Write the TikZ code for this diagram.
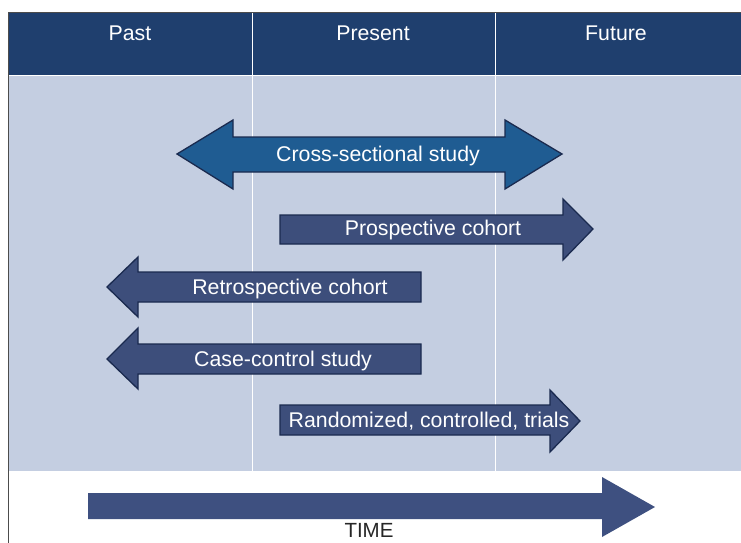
\documentclass[tikz,border=0pt]{standalone}
\usepackage{fontspec}
\setmainfont{Liberation Sans}
\definecolor{hdr}{HTML}{1F3F6E}
\definecolor{panel}{HTML}{C4CEE1}
\definecolor{xsec}{HTML}{1F5C92}
\definecolor{arr}{HTML}{3D4E7B}
\definecolor{edge}{HTML}{1A2A4F}
\definecolor{timec}{HTML}{3E5080}
\begin{document}
\begin{tikzpicture}[x=1pt,y=-1pt,
  hdrtext/.style={text=white,font=\fontsize{21.3}{23}\selectfont,inner sep=0pt},
  lbl/.style={text=white,font=\fontsize{21.3}{23}\selectfont,inner sep=0pt},
  arrowshape/.style={fill=arr,draw=edge,line width=1.3pt,line join=miter},
  divider/.style={draw=white,line width=1pt}]
\useasboundingbox (0,0) rectangle (741,543);
\fill[white] (0,0) rectangle (741,543);
% header and panel
\fill[hdr] (8,13) rectangle (741,75);
\fill[panel] (8,76) rectangle (741,471);
\draw[divider] (252,13) -- (252,471);
\draw[divider] (495,13) -- (495,471);
\draw[divider] (8,75.5) -- (741,75.5);
\draw[draw=black!70,line width=0.8pt] (8,543) -- (8,12.5) -- (741,12.5);
\node[hdrtext] (past) at (130,33) {Past};
\node[hdrtext] (present) at (373,33) {Present};
\node[hdrtext] (future) at (616,33) {Future};
% cross-sectional
\draw[arrowshape,fill=xsec] (177,154) -- (233,120) -- (233,137) -- (505,137) -- (505,120) -- (562,154) -- (505,189) -- (505,172) -- (233,172) -- (233,189) -- cycle;
\node[lbl] (xs) at (378,155.5) {Cross-sectional study};
% prospective
\draw[arrowshape] (280,215) -- (563,215) -- (563,199) -- (593,229) -- (563,260) -- (563,244) -- (280,244) -- cycle;
\node[lbl] (pc) at (433,229.5) {Prospective cohort};
% retrospective
\draw[arrowshape] (107,287) -- (138,257) -- (138,272) -- (421,272) -- (421,302) -- (138,302) -- (138,317) -- cycle;
\node[lbl] (rc) at (290,288.5) {Retrospective cohort};
% case-control
\draw[arrowshape] (107,359) -- (138,328) -- (138,344) -- (421,344) -- (421,374) -- (138,374) -- (138,389) -- cycle;
\node[lbl] (cc) at (283,360.5) {Case-control study};
% randomized
\draw[arrowshape] (280,405) -- (550,405) -- (550,390) -- (580,421) -- (550,452) -- (550,435) -- (280,435) -- cycle;
\node[lbl] (rct) at (429,421.5) {Randomized, controlled, trials};
% time arrow
\fill[timec] (88,493) -- (602,493) -- (602,477) -- (655,507) -- (602,537) -- (602,519) -- (88,519) -- cycle;
\node[text=black!85,font=\fontsize{20.5}{22}\selectfont,inner sep=0pt] (time) at (369,530) {TIME};
\end{tikzpicture}
\end{document}
